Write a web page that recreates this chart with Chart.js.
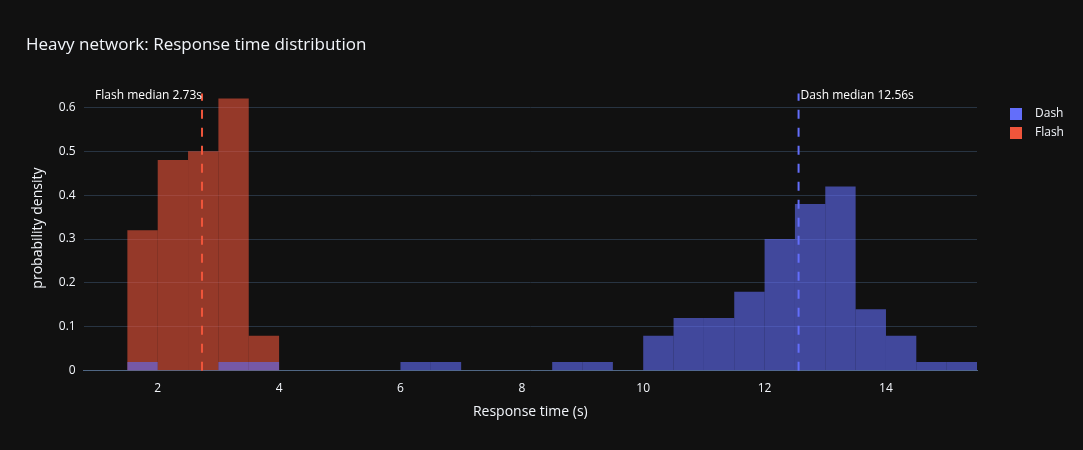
<!DOCTYPE html>
<html>
<head>
<meta charset="utf-8">
<script src="https://cdn.jsdelivr.net/npm/chart.js@4"></script>
<style>
  html, body { margin: 0; background: #111111; }
  #wrap { width: 1083px; height: 450px; position: relative; }
</style>
</head>
<body>
<div id="wrap"><canvas id="c"></canvas></div>
<script>
// bin centres (width 0.5 s) and densities
const dashBins = [1.75, 3.25, 3.75, 6.25, 6.75, 8.75, 9.25, 10.25, 10.75, 11.25, 11.75, 12.25, 12.75, 13.25, 13.75, 14.25, 14.75, 15.25];
const dashDensity = [0.02, 0.02, 0.02, 0.02, 0.02, 0.02, 0.02, 0.08, 0.12, 0.12, 0.18, 0.30, 0.38, 0.42, 0.14, 0.08, 0.02, 0.02];
const flashBins = [1.75, 2.25, 2.75, 3.25, 3.75];
const flashDensity = [0.32, 0.48, 0.50, 0.62, 0.08];
const medians = [
  { label: "Flash median 2.73s", value: 2.73, color: "#EF553B" },
  { label: "Dash median 12.56s", value: 12.56, color: "#636EFA" },
];

const medianLines = {
  id: "medianLines",
  afterDatasetsDraw(chart) {
    const { ctx, chartArea, scales } = chart;
    medians.forEach((m) => {
      const x = scales.x.getPixelForValue(m.value);
      ctx.save();
      ctx.strokeStyle = m.color;
      ctx.lineWidth = 2;
      ctx.setLineDash([9, 9]);
      ctx.beginPath();
      ctx.moveTo(x, chartArea.bottom);
      ctx.lineTo(x, chartArea.top + 8);
      ctx.stroke();
      ctx.setLineDash([]);
      ctx.fillStyle = "#ffffff";
      ctx.font = "12px 'Open Sans', sans-serif";
      ctx.textBaseline = "middle";
      if (m.value < 5) {
        ctx.textAlign = "right";
        ctx.fillText(m.label, x, chartArea.top + 10);
      } else {
        ctx.textAlign = "left";
        ctx.fillText(m.label, x + 2, chartArea.top + 10);
      }
      ctx.restore();
    });
  },
};

// plotly-like legend to the right of the plot
const sideLegend = {
  id: "sideLegend",
  afterDraw(chart) {
    const { ctx } = chart;
    chart.data.datasets.forEach((ds, i) => {
      const y = 114 + i * 19;
      ctx.save();
      ctx.fillStyle = i === 0 ? "#636EFA" : "#EF553B";
      ctx.fillRect(1010, y - 6, 12, 12);
      ctx.fillStyle = "#f2f5fa";
      ctx.font = "12px 'Open Sans', sans-serif";
      ctx.textBaseline = "middle";
      ctx.fillText(ds.label, 1035, y);
      ctx.restore();
    });
  },
};

new Chart(document.getElementById("c"), {
  type: "bar",
  data: {
    datasets: [
      {
        label: "Dash",
        data: dashBins.map((x, i) => ({ x, y: dashDensity[i] })),
        backgroundColor: "rgba(99,110,250,0.6)",
        order: 0,
      },
      {
        label: "Flash",
        data: flashBins.map((x, i) => ({ x, y: flashDensity[i] })),
        backgroundColor: "rgba(239,85,59,0.6)",
        order: 1,
      },
    ],
  },
  options: {
    responsive: true,
    maintainAspectRatio: false,
    animation: false,
    layout: { padding: { left: 26, right: 106, top: 25, bottom: 26 } },
    datasets: { bar: { barPercentage: 1, categoryPercentage: 1, grouped: false, borderWidth: 0, inflateAmount: 0 } },
    scales: {
      x: {
        type: "linear",
        offset: false,
        min: 0.78,
        max: 15.5,
        afterBuildTicks: (axis) => { axis.ticks = [2, 4, 6, 8, 10, 12, 14].map((v) => ({ value: v })); },
        ticks: { color: "#f2f5fa", font: { size: 12, family: "'Open Sans', sans-serif" } },
        grid: { display: false },
        border: { color: "#506784" },
        title: { display: true, text: "Response time (s)", color: "#f2f5fa", font: { size: 14, family: "'Open Sans', sans-serif" } },
      },
      y: {
        min: 0,
        max: 0.65,
        afterBuildTicks: (axis) => { axis.ticks = [0, 0.1, 0.2, 0.3, 0.4, 0.5, 0.6].map((v) => ({ value: v })); },
        ticks: { color: "#f2f5fa", font: { size: 12, family: "'Open Sans', sans-serif" }, padding: 8,
          callback: (v) => (v === 0 ? "0" : v.toFixed(1)) },
        grid: { color: "#283442", drawTicks: false },
        border: { display: false },
        title: { display: true, text: "probability density", color: "#f2f5fa", font: { size: 14, family: "'Open Sans', sans-serif" } },
      },
    },
    plugins: {
      title: {
        display: true,
        text: "Heavy network: Response time distribution",
        align: "start",
        color: "#f2f5fa",
        font: { size: 17, family: "'Open Sans', sans-serif", weight: "normal" },
        padding: { top: 10, bottom: 30 },
      },
      legend: { display: false },
      tooltip: { enabled: false },
    },
  },
  plugins: [medianLines, sideLegend],
});
</script>
</body>
</html>
